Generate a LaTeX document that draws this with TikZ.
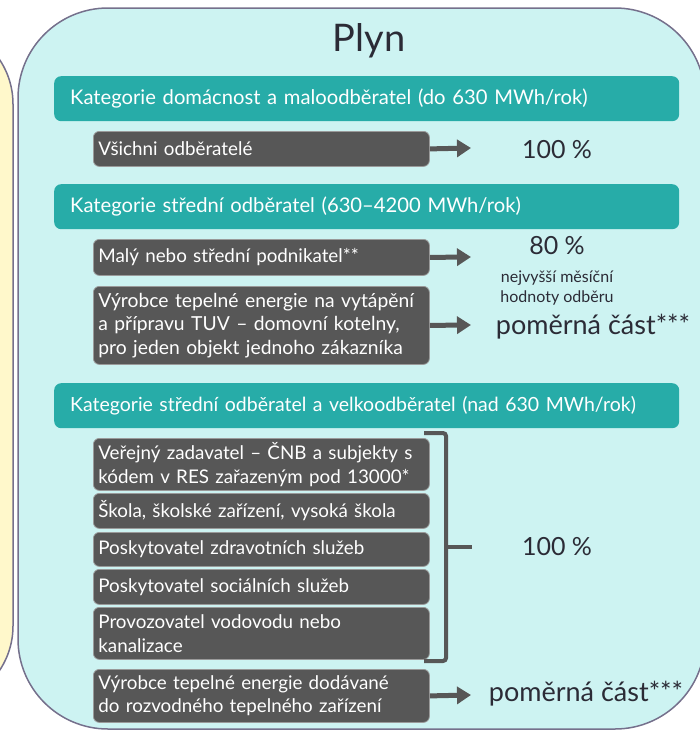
\documentclass[tikz,border=0pt]{standalone}
\usepackage{fontspec}
\setmainfont{Lato}
\usetikzlibrary{arrows.meta}
\definecolor{panelfill}{HTML}{CDF3F2}
\definecolor{sand}{HTML}{FFF8CB}
\definecolor{rim}{HTML}{75708C}
\definecolor{tealbar}{HTML}{27ACA8}
\definecolor{boxgray}{HTML}{575757}
\definecolor{darktext}{HTML}{2B2B36}

\begin{document}
\begin{tikzpicture}[x=1pt,y=-1pt]
        \tikzset{header/.style={fill=tealbar,rounded corners=7pt,text=white,anchor=north west,
                minimum height=45pt,text width=593pt,inner xsep=16pt,align=left,
                font=\fontsize{20.2}{23}\selectfont},
            catbox/.style={fill=boxgray,draw=boxgray!60!white,line width=0.8pt,rounded corners=6pt,
                text=white,anchor=north west,text width=326pt,inner xsep=5pt,inner ysep=3pt,
                align=left,font=\fontsize{18.8}{23.5}\selectfont},
            value/.style={text=darktext,font=\fontsize{25}{30}\selectfont},
            share/.style={text=darktext,font=\fontsize{27}{32}\selectfont},
            note/.style={text=darktext,align=center,font=\fontsize{16}{20}\selectfont},
            arrow/.style={draw=boxgray,line width=5pt,-{Triangle[length=14pt,width=17pt]}},
            bracket/.style={draw=boxgray,line width=4pt,rounded corners=3pt}}
        \useasboundingbox (0,0) rectangle (700,731);
        \clip (0,0) rectangle (700,731);
        \draw[draw=rim,fill=sand,line width=1.5pt,rounded corners=80pt] (-200,24) rectangle (13,706);
        \draw[draw=rim,fill=panelfill,line width=1.5pt,rounded corners=90pt] (18,8) rectangle (705,729);
        \node[text=darktext,font=\fontsize{38}{42}\selectfont] (plyn) at (369,41) {Plyn};

        \node[header] (domacnost) at (54,76) {Kategorie domácnost a maloodběratel (do 630 MWh/rok)};
        \node[catbox,minimum height=35pt] (vsichni) at (93,131) {Všichni odběratelé};
        \node[value] (vsichni-val) at (557,150) {100 \%};
        \coordinate (vsichni-end) at (471,148);
        \draw[arrow] (vsichni.east) -- (vsichni-end);

        \node[header] (stredni) at (54,184) {Kategorie střední odběratel (630–4200 MWh/rok)};
        \node[catbox,minimum height=36pt] (podnikatel) at (93,239) {Malý nebo střední podnikatel**};
        \node[value] (podnikatel-val) at (557,246) {80 \%};
        \node[note] (podnikatel-note) at (557,288) {nejvyšší měsíční\\hodnoty odběru};
        \coordinate (podnikatel-end) at (471,257);
        \draw[arrow] (podnikatel.east) -- (podnikatel-end);
        \node[catbox,minimum height=78pt,font=\fontsize{19.3}{23.5}\selectfont] (kotelny) at (93,286)
            {\mbox{Výrobce tepelné energie na vytápění}\\\mbox{a přípravu TUV – domovní kotelny,}\\\mbox{pro jeden objekt jednoho zákazníka}};
        \node[share] (kotelny-val) at (593,327) {poměrná část***};
        \coordinate (kotelny-end) at (471,325);
        \draw[arrow] (kotelny.east) -- (kotelny-end);

        \node[header,font=\fontsize{19.5}{23}\selectfont] (velko) at (54,383) {Kategorie střední odběratel a velkoodběratel (nad 630 MWh/rok)};
        \node[catbox,minimum height=52pt] (zadavatel) at (93,438) {Veřejný zadavatel – ČNB a subjekty s\\kódem v RES zařazeným pod 13000*};
        \node[catbox,minimum height=35pt] (skola) at (93,493) {Škola, školské zařízení, vysoká škola};
        \node[catbox,minimum height=34pt] (zdravotni) at (93,532) {Poskytovatel zdravotních služeb};
        \node[catbox,minimum height=35pt] (socialni) at (93,569) {Poskytovatel sociálních služeb};
        \node[catbox,minimum height=52pt] (vodovod) at (93,607) {Provozovatel vodovodu nebo\\kanalizace};
        \coordinate (brace-top) at (424,433);
        \coordinate (brace-bot) at (424,661);
        \coordinate (brace-mid) at (472,547);
        \draw[bracket] (brace-top) -- (446,433) -- (446,661) -- (brace-bot);
        \draw[bracket] (446,547) -- (brace-mid);
        \node[value] (velko-val) at (557,547) {100 \%};
        \node[catbox,minimum height=53pt] (rozvod) at (93,669) {Výrobce tepelné energie dodávané\\do rozvodného tepelného zařízení};
        \node[share] (rozvod-val) at (586,694) {poměrná část***};
        \coordinate (rozvod-end) at (471,695);
        \draw[arrow] (rozvod.east) -- (rozvod-end);
    \end{tikzpicture}
\end{document}
